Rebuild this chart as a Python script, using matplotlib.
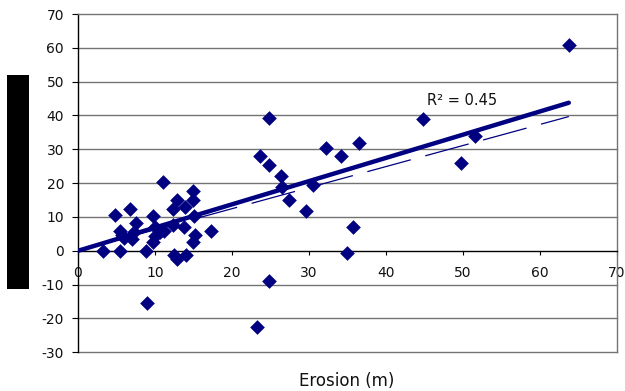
import matplotlib
matplotlib.use("Agg")
import matplotlib.pyplot as plt
from matplotlib.patches import Rectangle
import numpy as np

plt.rcParams['font.family'] = ['DejaVu Sans']
plt.rcParams['axes.unicode_minus'] = False

# Observed erosion (m) and the paired response values
erosion = [3.3, 4.8, 5.4, 5.5, 5.7, 6.0, 6.7, 7.0, 7.3, 7.5, 8.8, 9.0, 9.8, 9.7,
           10.0, 10.0, 10.6, 11.0, 11.2, 12.3, 12.4, 12.9, 12.5, 12.9, 14.0, 13.8,
           13.9, 15.0, 15.0, 15.1, 15.2, 15.0, 17.3, 23.3, 23.7, 24.8, 24.8, 24.8,
           26.4, 26.5, 27.4, 29.7, 30.6, 32.3, 34.2, 35.0, 35.8, 36.5, 44.8, 49.8,
           51.6, 63.8]
response = [0.0, 10.7, 0.0, 6.0, 4.8, 3.9, 12.4, 3.5, 5.6, 8.2, 0.0, -15.3, 10.3, 2.6,
            4.4, 7.0, 5.5, 20.2, 6.0, 7.7, 12.5, 15.0, -1.2, -2.5, -1.3, 7.0,
            13.0, 17.8, 15.0, 10.2, 4.6, 2.6, 6.0, -22.5, 28.0, 25.5, 39.3, -8.9,
            22.0, 18.9, 15.0, 11.8, 19.6, 30.3, 27.9, -0.6, 7.1, 32.0, 39.1, 26.1,
            33.8, 60.9]

# Trend line through the origin and the dashed comparison line
trend_slope = 0.686
dashed_slope = 0.622
r2_text = "R\u00b2 = 0.45"

x_ticks = [0, 10, 20, 30, 40, 50, 60, 70]
y_ticks = [-30, -20, -10, 0, 10, 20, 30, 40, 50, 60, 70]

navy = '#000080'
grid_gray = '#737373'
text_col = '#111111'

fig = plt.figure(figsize=(6.25, 3.91), dpi=100)
ax = fig.add_axes([78 / 625, (391 - 352.3) / 391, (616.5 - 78) / 625, (352.3 - 14) / 391])
ax.set_xlim(0, 70)
ax.set_ylim(-30, 70)

# horizontal gridlines
for yv in y_ticks:
    if yv in (0, 70):
        continue
    ax.axhline(yv, color=grid_gray, lw=1.0, zorder=1, clip_on=False)

for side in ('top', 'right'):
    ax.spines[side].set_color(grid_gray)
    ax.spines[side].set_linewidth(1.0)
ax.spines['left'].set_color('black')
ax.spines['left'].set_linewidth(1.0)
ax.spines['bottom'].set_position(('data', 0))
ax.spines['bottom'].set_color('black')
ax.spines['bottom'].set_linewidth(1.0)

ax.set_xticks(x_ticks)
ax.set_yticks(y_ticks)
ax.tick_params(axis='x', direction='out', length=3, width=0.8, pad=8,
               labelsize=10, colors='black')
ax.tick_params(axis='y', direction='out', length=4, width=0.8, pad=6,
               labelsize=10, colors='black')
for lbl in ax.get_xticklabels() + ax.get_yticklabels():
    lbl.set_color(text_col)

x_end = max(erosion)
xs = np.array([0.0, x_end])
ax.plot(xs, dashed_slope * xs, color=navy, lw=0.9, dashes=(36, 12), zorder=2)
ax.plot(xs, trend_slope * xs, color=navy, lw=3.2, solid_capstyle='round', zorder=3)

ax.scatter(erosion, response, marker='D', s=56, color=navy, linewidths=0, zorder=4)

ax.text(45.4, 43.2, r2_text, fontsize=10.5, color=text_col, ha='left', va='baseline')

fig.text(347 / 625, 1 - 381 / 391, "Erosion (m)", fontsize=12, color=text_col,
         ha='center', va='center')

# solid block over the vertical axis title
fig.patches.append(Rectangle((7 / 625, 1 - 289 / 391), 22 / 625, 214 / 391,
                             transform=fig.transFigure, facecolor='black',
                             edgecolor='none'))

fig.savefig('out.png', dpi=100)
